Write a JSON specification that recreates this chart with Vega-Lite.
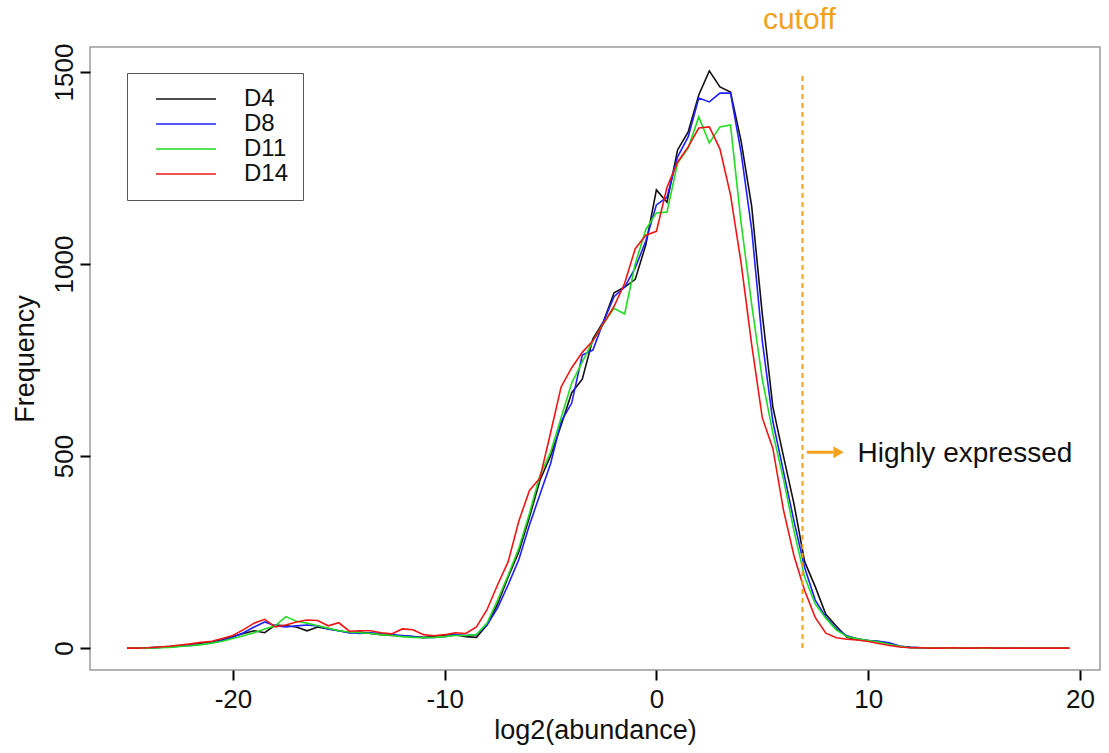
{
  "$schema": "https://vega.github.io/schema/vega-lite/v6.json",
  "width": 1010,
  "height": 623,
  "autosize": {"type": "none"},
  "padding": {"left": 90, "top": 47, "right": 9, "bottom": 83},
  "background": "white",
  "config": {
    "view": {"stroke": "#9a9a9a", "strokeWidth": 1.5},
    "font": "Liberation Sans",
    "axis": {
      "grid": false, "domain": false, "tickColor": "#000", "tickWidth": 2, "tickSize": 10,
      "labelFont": "Liberation Sans", "labelFontSize": 26, "labelColor": "#111",
      "titleFont": "Liberation Sans", "titleFontSize": 27, "titleFontWeight": "normal", "titleColor": "#111"
    }
  },
  "datasets": {
    "freq": [
      {"x": -25, "D4": 0, "D8": 0, "D11": 0, "D14": 0},
      {"x": -24.5, "D4": 0, "D8": 0, "D11": 0, "D14": 0},
      {"x": -24, "D4": 1, "D8": 1, "D11": 0, "D14": 1},
      {"x": -23.5, "D4": 2, "D8": 2, "D11": 1, "D14": 3},
      {"x": -23, "D4": 4, "D8": 3, "D11": 2, "D14": 5},
      {"x": -22.5, "D4": 6, "D8": 5, "D11": 4, "D14": 8},
      {"x": -22, "D4": 9, "D8": 7, "D11": 6, "D14": 11},
      {"x": -21.5, "D4": 12, "D8": 10, "D11": 9, "D14": 15},
      {"x": -21, "D4": 15, "D8": 14, "D11": 13, "D14": 18},
      {"x": -20.5, "D4": 22, "D8": 20, "D11": 18, "D14": 25},
      {"x": -20, "D4": 30, "D8": 28, "D11": 25, "D14": 33},
      {"x": -19.5, "D4": 38, "D8": 40, "D11": 32, "D14": 48},
      {"x": -19, "D4": 45, "D8": 55, "D11": 40, "D14": 65},
      {"x": -18.5, "D4": 40, "D8": 68, "D11": 50, "D14": 75},
      {"x": -18, "D4": 60, "D8": 58, "D11": 58, "D14": 55},
      {"x": -17.5, "D4": 58, "D8": 55, "D11": 82, "D14": 60},
      {"x": -17, "D4": 55, "D8": 58, "D11": 70, "D14": 68},
      {"x": -16.5, "D4": 45, "D8": 60, "D11": 65, "D14": 73},
      {"x": -16, "D4": 55, "D8": 58, "D11": 58, "D14": 72},
      {"x": -15.5, "D4": 50, "D8": 50, "D11": 52, "D14": 58},
      {"x": -15, "D4": 45, "D8": 45, "D11": 45, "D14": 66},
      {"x": -14.5, "D4": 40, "D8": 40, "D11": 42, "D14": 44},
      {"x": -14, "D4": 42, "D8": 38, "D11": 40, "D14": 45},
      {"x": -13.5, "D4": 38, "D8": 40, "D11": 38, "D14": 45},
      {"x": -13, "D4": 35, "D8": 38, "D11": 35, "D14": 40},
      {"x": -12.5, "D4": 33, "D8": 35, "D11": 33, "D14": 37},
      {"x": -12, "D4": 32, "D8": 33, "D11": 30, "D14": 50},
      {"x": -11.5, "D4": 30, "D8": 30, "D11": 28, "D14": 48},
      {"x": -11, "D4": 28, "D8": 27, "D11": 27, "D14": 35},
      {"x": -10.5, "D4": 30, "D8": 28, "D11": 28, "D14": 32},
      {"x": -10, "D4": 33, "D8": 30, "D11": 30, "D14": 35},
      {"x": -9.5, "D4": 35, "D8": 35, "D11": 33, "D14": 40},
      {"x": -9, "D4": 30, "D8": 33, "D11": 33, "D14": 38},
      {"x": -8.5, "D4": 28, "D8": 35, "D11": 35, "D14": 55},
      {"x": -8, "D4": 60, "D8": 60, "D11": 65, "D14": 100},
      {"x": -7.5, "D4": 115, "D8": 105, "D11": 125, "D14": 165},
      {"x": -7, "D4": 185, "D8": 165, "D11": 190, "D14": 225},
      {"x": -6.5, "D4": 250, "D8": 230, "D11": 260, "D14": 330},
      {"x": -6, "D4": 340, "D8": 320, "D11": 350, "D14": 410},
      {"x": -5.5, "D4": 437, "D8": 400, "D11": 450, "D14": 443},
      {"x": -5, "D4": 500, "D8": 480, "D11": 510, "D14": 560},
      {"x": -4.5, "D4": 580, "D8": 590, "D11": 600, "D14": 680},
      {"x": -4, "D4": 665, "D8": 638, "D11": 690, "D14": 730},
      {"x": -3.5, "D4": 700, "D8": 763, "D11": 745, "D14": 770},
      {"x": -3, "D4": 805, "D8": 776, "D11": 800, "D14": 800},
      {"x": -2.5, "D4": 850, "D8": 850, "D11": 845, "D14": 845},
      {"x": -2, "D4": 925, "D8": 915, "D11": 885, "D14": 890},
      {"x": -1.5, "D4": 940, "D8": 940, "D11": 870, "D14": 950},
      {"x": -1, "D4": 960, "D8": 990, "D11": 1000, "D14": 1040},
      {"x": -0.5, "D4": 1050, "D8": 1060, "D11": 1090, "D14": 1075},
      {"x": 0, "D4": 1193, "D8": 1154, "D11": 1133, "D14": 1085},
      {"x": 0.5, "D4": 1161, "D8": 1174, "D11": 1135, "D14": 1200},
      {"x": 1, "D4": 1297, "D8": 1279, "D11": 1263, "D14": 1265},
      {"x": 1.5, "D4": 1344, "D8": 1331, "D11": 1302, "D14": 1305},
      {"x": 2, "D4": 1440, "D8": 1432, "D11": 1383, "D14": 1354},
      {"x": 2.5, "D4": 1503, "D8": 1422, "D11": 1315, "D14": 1357},
      {"x": 3, "D4": 1461, "D8": 1445, "D11": 1357, "D14": 1300},
      {"x": 3.5, "D4": 1448, "D8": 1445, "D11": 1362, "D14": 1180},
      {"x": 4, "D4": 1320, "D8": 1290, "D11": 1107, "D14": 1003},
      {"x": 4.5, "D4": 1150, "D8": 1090, "D11": 895, "D14": 790},
      {"x": 5, "D4": 870, "D8": 800, "D11": 700, "D14": 600},
      {"x": 5.5, "D4": 628, "D8": 590, "D11": 560, "D14": 520},
      {"x": 6, "D4": 500, "D8": 460, "D11": 440, "D14": 360},
      {"x": 6.5, "D4": 375, "D8": 330, "D11": 305, "D14": 240},
      {"x": 7, "D4": 225, "D8": 210, "D11": 185, "D14": 150},
      {"x": 7.5, "D4": 160, "D8": 125, "D11": 115, "D14": 80},
      {"x": 8, "D4": 88, "D8": 81, "D11": 78, "D14": 39},
      {"x": 8.5, "D4": 57, "D8": 50, "D11": 47, "D14": 27},
      {"x": 9, "D4": 28, "D8": 32, "D11": 30, "D14": 23},
      {"x": 9.5, "D4": 22, "D8": 24, "D11": 24, "D14": 21},
      {"x": 10, "D4": 20, "D8": 20, "D11": 20, "D14": 17},
      {"x": 10.5, "D4": 17, "D8": 18, "D11": 16, "D14": 12},
      {"x": 11, "D4": 12, "D8": 14, "D11": 10, "D14": 7},
      {"x": 11.5, "D4": 5, "D8": 5, "D11": 4, "D14": 3},
      {"x": 12, "D4": 2, "D8": 2, "D11": 1, "D14": 1},
      {"x": 12.5, "D4": 1, "D8": 1, "D11": 1, "D14": 1},
      {"x": 13, "D4": 1, "D8": 0, "D11": 1, "D14": 0},
      {"x": 13.5, "D4": 0, "D8": 1, "D11": 0, "D14": 0},
      {"x": 14, "D4": 0, "D8": 0, "D11": 0, "D14": 1},
      {"x": 14.5, "D4": 1, "D8": 0, "D11": 1, "D14": 0},
      {"x": 15, "D4": 0, "D8": 0, "D11": 0, "D14": 0},
      {"x": 15.5, "D4": 0, "D8": 1, "D11": 0, "D14": 1},
      {"x": 16, "D4": 0, "D8": 0, "D11": 0, "D14": 0},
      {"x": 16.5, "D4": 0, "D8": 0, "D11": 0, "D14": 0},
      {"x": 17, "D4": 1, "D8": 1, "D11": 0, "D14": 0},
      {"x": 17.5, "D4": 0, "D8": 0, "D11": 0, "D14": 0},
      {"x": 18, "D4": 0, "D8": 0, "D11": 0, "D14": 0},
      {"x": 18.5, "D4": 0, "D8": 0, "D11": 0, "D14": 0},
      {"x": 19, "D4": 0, "D8": 0, "D11": 0, "D14": 0},
      {"x": 19.5, "D4": 0, "D8": 0, "D11": 0, "D14": 0}
    ]
  },
  "encoding": {
    "x": {
      "field": "x", "type": "quantitative",
      "scale": {"domain": [-26.75, 20.95], "nice": false, "zero": false},
      "axis": {"values": [-20, -10, 0, 10, 20], "labelExpr": "toString(datum.value)", "title": "log2(abundance)", "labelFontSize": 26, "titleFontSize": 27, "labelPadding": 6, "titlePadding": 5}
    },
    "y": {
      "field": "count", "type": "quantitative",
      "scale": {"domain": [-57, 1565], "nice": false, "zero": false},
      "axis": {"values": [0, 500, 1000, 1500], "labelExpr": "toString(datum.value)", "title": "Frequency", "labelFontSize": 26, "titleFontSize": 27, "labelAngle": -90, "labelAlign": "center", "labelBaseline": "bottom", "labelPadding": 3, "titlePadding": 12}
    }
  },
  "layer": [
    {
      "data": {"name": "freq"},
      "transform": [{"fold": ["D4", "D8", "D11", "D14"], "as": ["sample", "count"]}],
      "mark": {"type": "line", "strokeWidth": 1.6},
      "encoding": {
        "color": {
          "field": "sample", "type": "nominal",
          "scale": {"domain": ["D4", "D8", "D11", "D14"], "range": ["#111111", "#1f1fff", "#22dd22", "#f01515"]},
          "legend": {
            "title": null, "orient": "none", "legendX": 37, "legendY": 26,
            "strokeColor": "#555555", "fillColor": "white", "padding": 14,
            "symbolType": "M-4,0H4", "symbolSize": 225, "symbolStrokeWidth": 1.5, "symbolOffset": 33,
            "labelOffset": 46, "labelFontSize": 24, "labelFont": "Liberation Sans", "labelColor": "#111", "rowPadding": 1
          }
        }
      }
    },
    {
      "data": {"values": [{"x": 6.9, "count": 0, "count2": 1500}]},
      "mark": {"type": "rule", "color": "#f5a01a", "strokeWidth": 2, "strokeDash": [5, 4]},
      "encoding": {"y2": {"field": "count2"}}
    },
    {
      "data": {"values": [{"x": 7.1, "x2": 8.35, "count": 510}]},
      "mark": {"type": "rule", "color": "#f5a01a", "strokeWidth": 3},
      "encoding": {"x2": {"field": "x2"}}
    },
    {
      "data": {"values": [{"x": 8.6, "count": 510}]},
      "mark": {"type": "point", "shape": "triangle-right", "filled": true, "color": "#f5a01a", "size": 140, "opacity": 1},
      "encoding": {}
    },
    {
      "data": {"values": [{"x": 9.5, "count": 505, "label": "Highly expressed"}]},
      "mark": {"type": "text", "align": "left", "baseline": "middle", "fontSize": 28, "font": "Liberation Sans", "color": "#111"},
      "encoding": {"text": {"field": "label"}}
    },
    {
      "data": {"values": [{"x": 6.75, "count": 1635, "label": "cutoff"}]},
      "mark": {"type": "text", "align": "center", "baseline": "middle", "fontSize": 30, "font": "Liberation Sans", "color": "#f5a01a"},
      "encoding": {"text": {"field": "label"}}
    }
  ]
}
